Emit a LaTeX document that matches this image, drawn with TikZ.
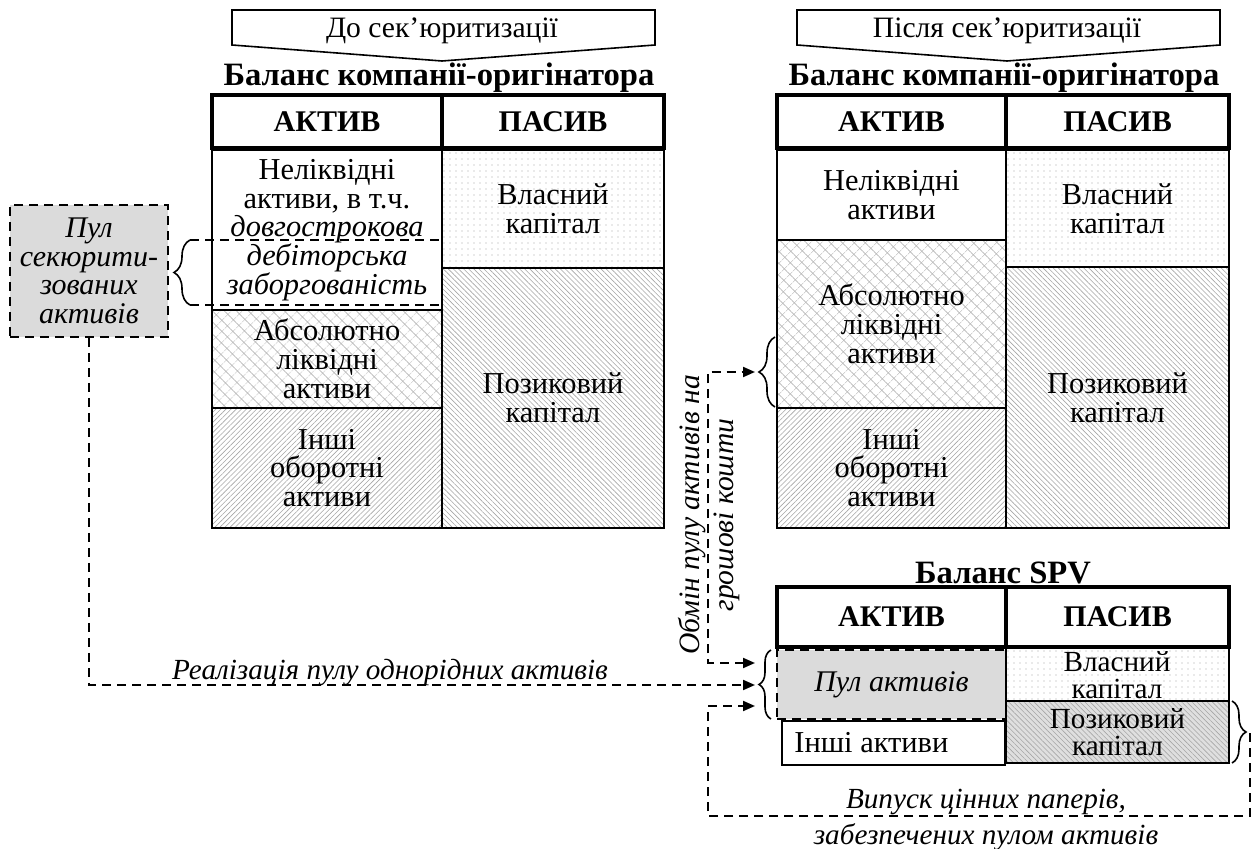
\documentclass[tikz,border=0pt]{standalone}
\usepackage{fontspec}
\setmainfont{Liberation Serif}
\usetikzlibrary{fit,patterns.meta,decorations.pathreplacing,arrows.meta}
\newcommand\mybody{\fontsize{15.2}{14.4}\selectfont}
\newcommand\mytight{\fontsize{14.6}{13.6}\selectfont}
\newcommand\mypool{\fontsize{15}{14.3}\selectfont\itshape}
\newcommand\mylab{\fontsize{14.6}{16}\selectfont\itshape}
\newcommand\myrot{\fontsize{14.8}{17}\selectfont\itshape}
\newcommand\myhdr{\fontsize{15}{17}\selectfont\bfseries}
\newcommand\myttl{\fontsize{16.3}{18}\selectfont\bfseries}
\newcommand\myban{\fontsize{14.8}{16}\selectfont}
\tikzset{
 cell/.style={draw, line width=1pt, inner sep=0pt},
 txt/.style={inner sep=0pt, align=center, font=\mybody},
 hdr/.style={draw, line width=1.7pt, inner sep=0pt},
 htxt/.style={inner sep=0pt, font=\myhdr},
 pdots/.style={pattern={Dots[distance=3pt,radius=0.35pt]}, pattern color=gray!70},
 pnw/.style={pattern={Lines[angle=-45,distance=1.8pt,line width=0.3pt]}, pattern color=gray!70},
 pne/.style={pattern={Lines[angle=45,distance=1.8pt,line width=0.3pt]}, pattern color=gray!70},
 phatch/.style={pattern={Hatch[angle=45,distance=4pt,line width=0.3pt]}, pattern color=gray!55},
 conn/.style={dash pattern=on 4.5pt off 3pt, line width=1pt},
 poolbox/.style={draw, dash pattern=on 4.5pt off 3pt, line width=1pt, fill=gray!28, inner sep=0pt},
 tip/.style={-{Triangle[length=6pt,width=5pt]}},
 brc/.style={decorate, decoration={brace, amplitude=#1}, line width=0.8pt},
 banner/.style={draw, line width=0.8pt},
}
\begin{document}
\begin{tikzpicture}[x=0.5pt,y=-0.5pt]
\fill[white] (0,0) rectangle (1253,849);
\useasboundingbox (0,0) rectangle (1253,849);

% banners
\draw[banner] (232,10) -- (655,10) -- (655,45) -- (442,61) -- (232,45) -- cycle;
\node[font=\myban] (ban1) at (442,31) {До сек’юритизації};
\draw[banner] (797,10) -- (1220,10) -- (1220,45) -- (1007,61) -- (797,45) -- cycle;
\node[font=\myban] (ban2) at (1007,31) {Після сек’юритизації};

% titles
\node[font=\myttl] (t1) at (439,78) {Баланс компанії-оригінатора};
\node[font=\myttl] (t2) at (1004,78) {Баланс компанії-оригінатора};

% left balance
\node[hdr, fit={(212,95)(442,148)}] (lhA) {};
\node[htxt] (lhAt) at (lhA.center) {АКТИВ};
\node[hdr, fit={(442,95)(664,148)}] (lhP) {};
\node[htxt] (lhPt) at (lhP.center) {ПАСИВ};
\node[cell, fit={(212,150)(442,310)}] (lN) {};
\node[txt] (lNt) at (327,230) {Неліквідні\\активи, в т.ч.\\\textit{довгострокова}\\\textit{дебіторська}\\\textit{заборгованість}};
\node[cell, phatch, fit={(212,310)(442,408)}] (lL) {};
\node[txt] (lLt) at (lL.center) {Абсолютно\\ліквідні\\активи};
\node[cell, pne, fit={(212,408)(442,528)}] (lO) {};
\node[txt] (lOt) at (lO.center) {Інші\\оборотні\\активи};
\node[cell, pdots, fit={(442,150)(664,268)}] (lV) {};
\node[txt] (lVt) at (lV.center) {Власний\\капітал};
\node[cell, pnw, fit={(442,268)(664,528)}] (lP) {};
\node[txt] (lPt) at (lP.center) {Позиковий\\капітал};
\draw[conn] (190,240) -- (442,240);
\draw[conn] (190,305) -- (442,305);
\draw[brc=8pt] (190,305) -- (190,240);

% pool of securitised assets
\node[poolbox, fit={(10,205)(168,337)}] (pool1) {};
\node[txt, font=\mypool] (pool1t) at (pool1.center) {Пул\\секюрити-\\зованих\\активів};

% right balance
\node[hdr, fit={(777,95)(1006,148)}] (rhA) {};
\node[htxt] (rhAt) at (rhA.center) {АКТИВ};
\node[hdr, fit={(1006,95)(1229,148)}] (rhP) {};
\node[htxt] (rhPt) at (rhP.center) {ПАСИВ};
\node[cell, fit={(777,150)(1006,240)}] (rN) {};
\node[txt] (rNt) at (rN.center) {Неліквідні\\активи};
\node[cell, phatch, fit={(777,240)(1006,408)}] (rL) {};
\node[txt] (rLt) at (rL.center) {Абсолютно\\ліквідні\\активи};
\node[cell, pne, fit={(777,408)(1006,528)}] (rO) {};
\node[txt] (rOt) at (rO.center) {Інші\\оборотні\\активи};
\node[cell, pdots, fit={(1006,150)(1229,267)}] (rV) {};
\node[txt] (rVt) at (rV.center) {Власний\\капітал};
\node[cell, pnw, fit={(1006,267)(1229,528)}] (rP) {};
\node[txt] (rPt) at (rP.center) {Позиковий\\капітал};
\draw[brc=8pt] (775,407) -- (775,337);

% SPV balance
\node[font=\myttl] (t3) at (1003,573) {Баланс SPV};
\node[hdr, fit={(777,587)(1006,647)}] (shA) {};
\node[htxt] (shAt) at (shA.center) {АКТИВ};
\node[hdr, fit={(1006,587)(1229,647)}] (shP) {};
\node[htxt] (shPt) at (shP.center) {ПАСИВ};
\node[poolbox, fit={(777,650)(1006,719)}] (spool) {};
\node[txt, font=\mypool] (spoolt) at (spool.center) {Пул активів};
\node[cell, fit={(782,721)(1005,765)}] (sO) {};
\node[txt, anchor=west] (sOt) at (794,743) {Інші активи};
\node[cell, pdots, fit={(1006,648)(1229,701)}] (sV) {};
\node[txt, font=\mytight] (sVt) at (1117,675) {Власний\\капітал};
\node[cell, preaction={fill=gray!25}, pnw, fit={(1006,701)(1229,763)}] (sP) {};
\node[txt, font=\mytight] (sPt) at (sP.center) {Позиковий\\капітал};
\draw[brc=6pt] (771,719) -- (771,650);
\draw[brc=7pt] (1232,701) -- (1232,763);

% connector points
\coordinate (rbt) at (755,372);
\coordinate (k1) at (708,372);
\coordinate (spvt) at (755,663);
\coordinate (spvm) at (755,685);
\coordinate (spvb) at (755,706);
\coordinate (sbt) at (1250,733);
\coordinate (k2) at (708,816);

% connectors
\draw[conn, tip] (pool1.south) |- (spvm);
\draw[conn, {Triangle[length=6pt,width=5pt]}-{Triangle[length=6pt,width=5pt]}] (spvt) -| (k1) -- (rbt);
\draw[conn, tip] (sbt) |- (k2) |- (spvb);

% labels
\node[font=\mylab, anchor=base] (lab1) at (390,679) {Реалізація пулу однорідних активів};
\node[font=\myrot, rotate=90, align=center, inner sep=0pt] (lab2) at (709,515) {Обмін пулу активів на\\грошові кошти};
\node[font=\mylab, align=center, inner sep=0pt] (lab3) at (986,820) {Випуск цінних паперів,\\[2pt]забезпечених пулом активів};
\end{tikzpicture}
\end{document}
